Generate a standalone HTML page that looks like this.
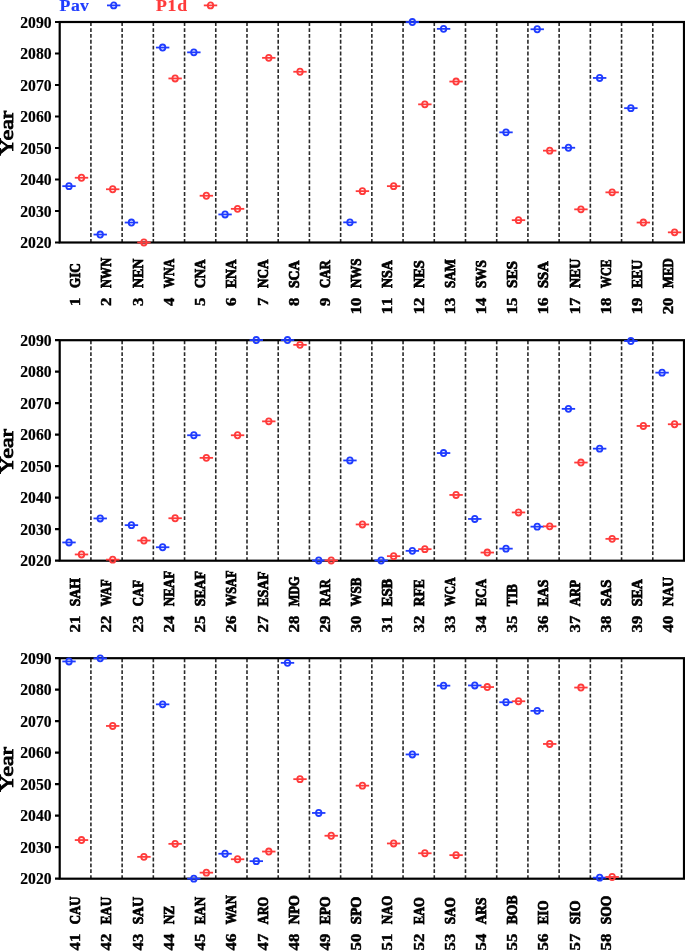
<!DOCTYPE html>
<html><head><meta charset="utf-8"><style>
html,body{margin:0;padding:0;background:#fff;width:685px;height:951px;overflow:hidden}
svg{display:block;will-change:transform}
text{font-family:"Liberation Serif",serif;font-weight:bold}
</style></head><body>
<svg width="685" height="951" viewBox="0 0 685 951">
<rect width="685" height="951" fill="#fff"/>

<path d="M90.91 22.30V242.50M122.13 22.30V242.50M153.34 22.30V242.50M184.56 22.30V242.50M215.77 22.30V242.50M246.99 22.30V242.50M278.20 22.30V242.50M309.42 22.30V242.50M340.63 22.30V242.50M371.85 22.30V242.50M403.06 22.30V242.50M434.28 22.30V242.50M465.49 22.30V242.50M496.71 22.30V242.50M527.92 22.30V242.50M559.14 22.30V242.50M590.36 22.30V242.50M621.57 22.30V242.50M652.78 22.30V242.50" stroke="#2a2a2a" stroke-width="1.6" stroke-dasharray="3.8 2.056" fill="none"/>
<rect x="59.70" y="22.00" width="624.30" height="220.50" fill="none" stroke="#000" stroke-width="2.2"/>
<path d="M55 22.00H59.70M55 53.50H59.70M55 85.00H59.70M55 116.50H59.70M55 148.00H59.70M55 179.50H59.70M55 211.00H59.70M55 242.50H59.70" stroke="#000" stroke-width="2.2" fill="none"/>
<text font-size="16.0" text-anchor="end" stroke="#000" stroke-width="0.15" transform="translate(51.6 27.60) scale(0.98 1)">2090</text>
<text font-size="16.0" text-anchor="end" stroke="#000" stroke-width="0.15" transform="translate(51.6 59.10) scale(0.98 1)">2080</text>
<text font-size="16.0" text-anchor="end" stroke="#000" stroke-width="0.15" transform="translate(51.6 90.60) scale(0.98 1)">2070</text>
<text font-size="16.0" text-anchor="end" stroke="#000" stroke-width="0.15" transform="translate(51.6 122.10) scale(0.98 1)">2060</text>
<text font-size="16.0" text-anchor="end" stroke="#000" stroke-width="0.15" transform="translate(51.6 153.60) scale(0.98 1)">2050</text>
<text font-size="16.0" text-anchor="end" stroke="#000" stroke-width="0.15" transform="translate(51.6 185.10) scale(0.98 1)">2040</text>
<text font-size="16.0" text-anchor="end" stroke="#000" stroke-width="0.15" transform="translate(51.6 216.60) scale(0.98 1)">2030</text>
<text font-size="16.0" text-anchor="end" stroke="#000" stroke-width="0.15" transform="translate(51.6 248.10) scale(0.98 1)">2020</text>
<text font-size="19.5" text-anchor="middle" stroke="#000" stroke-width="0.9" style="font-weight:normal" transform="translate(12.5 133.25) rotate(-90) scale(1.24 1)">Year</text>
<text font-size="14.5" stroke="#000" stroke-width="0.8" transform="translate(80.21 288.10) rotate(-90) scale(0.9097 1)">GIC</text>
<text font-size="14.5" text-anchor="middle" stroke="#000" stroke-width="0.45" transform="translate(80.21 301.70) rotate(-90) scale(1.16 1)">1</text>
<text font-size="14.5" stroke="#000" stroke-width="0.8" transform="translate(111.42 288.10) rotate(-90) scale(0.8572 1)">NWN</text>
<text font-size="14.5" text-anchor="middle" stroke="#000" stroke-width="0.45" transform="translate(111.42 301.70) rotate(-90) scale(1.16 1)">2</text>
<text font-size="14.5" stroke="#000" stroke-width="0.8" transform="translate(142.64 288.10) rotate(-90) scale(0.9566 1)">NEN</text>
<text font-size="14.5" text-anchor="middle" stroke="#000" stroke-width="0.45" transform="translate(142.64 301.70) rotate(-90) scale(1.16 1)">3</text>
<text font-size="14.5" stroke="#000" stroke-width="0.8" transform="translate(173.85 288.10) rotate(-90) scale(0.8306 1)">WNA</text>
<text font-size="14.5" text-anchor="middle" stroke="#000" stroke-width="0.45" transform="translate(173.85 301.70) rotate(-90) scale(1.16 1)">4</text>
<text font-size="14.5" stroke="#000" stroke-width="0.8" transform="translate(205.07 288.10) rotate(-90) scale(0.9163 1)">CNA</text>
<text font-size="14.5" text-anchor="middle" stroke="#000" stroke-width="0.45" transform="translate(205.07 301.70) rotate(-90) scale(1.16 1)">5</text>
<text font-size="14.5" stroke="#000" stroke-width="0.8" transform="translate(236.28 288.10) rotate(-90) scale(0.9337 1)">ENA</text>
<text font-size="14.5" text-anchor="middle" stroke="#000" stroke-width="0.45" transform="translate(236.28 301.70) rotate(-90) scale(1.16 1)">6</text>
<text font-size="14.5" stroke="#000" stroke-width="0.8" transform="translate(267.50 288.10) rotate(-90) scale(0.9078 1)">NCA</text>
<text font-size="14.5" text-anchor="middle" stroke="#000" stroke-width="0.45" transform="translate(267.50 301.70) rotate(-90) scale(1.16 1)">7</text>
<text font-size="14.5" stroke="#000" stroke-width="0.8" transform="translate(298.71 288.10) rotate(-90) scale(0.9486 1)">SCA</text>
<text font-size="14.5" text-anchor="middle" stroke="#000" stroke-width="0.45" transform="translate(298.71 301.70) rotate(-90) scale(1.16 1)">8</text>
<text font-size="14.5" stroke="#000" stroke-width="0.8" transform="translate(329.93 288.10) rotate(-90) scale(0.8919 1)">CAR</text>
<text font-size="14.5" text-anchor="middle" stroke="#000" stroke-width="0.45" transform="translate(329.93 301.70) rotate(-90) scale(1.16 1)">9</text>
<text font-size="14.5" stroke="#000" stroke-width="0.8" transform="translate(361.14 288.10) rotate(-90) scale(0.8969 1)">NWS</text>
<text font-size="14.5" text-anchor="middle" stroke="#000" stroke-width="0.45" transform="translate(361.14 310.10) rotate(-90) scale(1.16 1)">1</text>
<text font-size="14.5" text-anchor="middle" stroke="#000" stroke-width="0.45" transform="translate(361.14 301.70) rotate(-90) scale(1.16 1)">0</text>
<text font-size="14.5" stroke="#000" stroke-width="0.8" transform="translate(392.36 288.10) rotate(-90) scale(0.9632 1)">NSA</text>
<text font-size="14.5" text-anchor="middle" stroke="#000" stroke-width="0.45" transform="translate(392.36 310.10) rotate(-90) scale(1.16 1)">1</text>
<text font-size="14.5" text-anchor="middle" stroke="#000" stroke-width="0.45" transform="translate(392.36 301.70) rotate(-90) scale(1.16 1)">1</text>
<text font-size="14.5" stroke="#000" stroke-width="0.8" transform="translate(423.57 288.10) rotate(-90) scale(0.9885 1)">NES</text>
<text font-size="14.5" text-anchor="middle" stroke="#000" stroke-width="0.45" transform="translate(423.57 310.10) rotate(-90) scale(1.16 1)">1</text>
<text font-size="14.5" text-anchor="middle" stroke="#000" stroke-width="0.45" transform="translate(423.57 301.70) rotate(-90) scale(1.16 1)">2</text>
<text font-size="14.5" stroke="#000" stroke-width="0.8" transform="translate(454.79 288.10) rotate(-90) scale(0.8994 1)">SAM</text>
<text font-size="14.5" text-anchor="middle" stroke="#000" stroke-width="0.45" transform="translate(454.79 310.10) rotate(-90) scale(1.16 1)">1</text>
<text font-size="14.5" text-anchor="middle" stroke="#000" stroke-width="0.45" transform="translate(454.79 301.70) rotate(-90) scale(1.16 1)">3</text>
<text font-size="14.5" stroke="#000" stroke-width="0.8" transform="translate(486.00 288.10) rotate(-90) scale(0.9118 1)">SWS</text>
<text font-size="14.5" text-anchor="middle" stroke="#000" stroke-width="0.45" transform="translate(486.00 310.10) rotate(-90) scale(1.16 1)">1</text>
<text font-size="14.5" text-anchor="middle" stroke="#000" stroke-width="0.45" transform="translate(486.00 301.70) rotate(-90) scale(1.16 1)">4</text>
<text font-size="14.5" stroke="#000" stroke-width="0.8" transform="translate(517.22 288.10) rotate(-90) scale(1.056 1)">SES</text>
<text font-size="14.5" text-anchor="middle" stroke="#000" stroke-width="0.45" transform="translate(517.22 310.10) rotate(-90) scale(1.16 1)">1</text>
<text font-size="14.5" text-anchor="middle" stroke="#000" stroke-width="0.45" transform="translate(517.22 301.70) rotate(-90) scale(1.16 1)">5</text>
<text font-size="14.5" stroke="#000" stroke-width="0.8" transform="translate(548.43 288.10) rotate(-90) scale(1.0091 1)">SSA</text>
<text font-size="14.5" text-anchor="middle" stroke="#000" stroke-width="0.45" transform="translate(548.43 310.10) rotate(-90) scale(1.16 1)">1</text>
<text font-size="14.5" text-anchor="middle" stroke="#000" stroke-width="0.45" transform="translate(548.43 301.70) rotate(-90) scale(1.16 1)">6</text>
<text font-size="14.5" stroke="#000" stroke-width="0.8" transform="translate(579.65 288.10) rotate(-90) scale(0.9658 1)">NEU</text>
<text font-size="14.5" text-anchor="middle" stroke="#000" stroke-width="0.45" transform="translate(579.65 310.10) rotate(-90) scale(1.16 1)">1</text>
<text font-size="14.5" text-anchor="middle" stroke="#000" stroke-width="0.45" transform="translate(579.65 301.70) rotate(-90) scale(1.16 1)">7</text>
<text font-size="14.5" stroke="#000" stroke-width="0.8" transform="translate(610.86 288.10) rotate(-90) scale(0.8308 1)">WCE</text>
<text font-size="14.5" text-anchor="middle" stroke="#000" stroke-width="0.45" transform="translate(610.86 310.10) rotate(-90) scale(1.16 1)">1</text>
<text font-size="14.5" text-anchor="middle" stroke="#000" stroke-width="0.45" transform="translate(610.86 301.70) rotate(-90) scale(1.16 1)">8</text>
<text font-size="14.5" stroke="#000" stroke-width="0.8" transform="translate(642.08 288.10) rotate(-90) scale(0.9443 1)">EEU</text>
<text font-size="14.5" text-anchor="middle" stroke="#000" stroke-width="0.45" transform="translate(642.08 310.10) rotate(-90) scale(1.16 1)">1</text>
<text font-size="14.5" text-anchor="middle" stroke="#000" stroke-width="0.45" transform="translate(642.08 301.70) rotate(-90) scale(1.16 1)">9</text>
<text font-size="14.5" stroke="#000" stroke-width="0.8" transform="translate(673.29 288.10) rotate(-90) scale(0.8811 1)">MED</text>
<text font-size="14.5" text-anchor="middle" stroke="#000" stroke-width="0.45" transform="translate(673.29 310.10) rotate(-90) scale(1.16 1)">2</text>
<text font-size="14.5" text-anchor="middle" stroke="#000" stroke-width="0.45" transform="translate(673.29 301.70) rotate(-90) scale(1.16 1)">0</text>
<g stroke="#1f3cff" stroke-width="1.8" fill="none"><path d="M62.30 186.15H75.70"/><ellipse cx="69.00" cy="186.15" rx="2.75" ry="3.05"/></g>
<g stroke="#ff3b3b" stroke-width="1.8" fill="none"><path d="M74.80 177.75H88.20"/><ellipse cx="81.50" cy="177.75" rx="2.75" ry="3.05"/></g>
<g stroke="#1f3cff" stroke-width="1.8" fill="none"><path d="M93.51 234.55H106.91"/><ellipse cx="100.21" cy="234.55" rx="2.75" ry="3.05"/></g>
<g stroke="#ff3b3b" stroke-width="1.8" fill="none"><path d="M106.01 189.25H119.41"/><ellipse cx="112.71" cy="189.25" rx="2.75" ry="3.05"/></g>
<g stroke="#1f3cff" stroke-width="1.8" fill="none"><path d="M124.73 222.55H138.13"/><ellipse cx="131.43" cy="222.55" rx="2.75" ry="3.05"/></g>
<g stroke="#ff3b3b" stroke-width="1.8" fill="none"><path d="M137.23 242.45H150.63"/><ellipse cx="143.93" cy="242.45" rx="2.75" ry="3.05"/></g>
<g stroke="#1f3cff" stroke-width="1.8" fill="none"><path d="M155.94 47.55H169.34"/><ellipse cx="162.64" cy="47.55" rx="2.75" ry="3.05"/></g>
<g stroke="#ff3b3b" stroke-width="1.8" fill="none"><path d="M168.44 78.45H181.84"/><ellipse cx="175.14" cy="78.45" rx="2.75" ry="3.05"/></g>
<g stroke="#1f3cff" stroke-width="1.8" fill="none"><path d="M187.16 52.35H200.56"/><ellipse cx="193.86" cy="52.35" rx="2.75" ry="3.05"/></g>
<g stroke="#ff3b3b" stroke-width="1.8" fill="none"><path d="M199.66 195.75H213.06"/><ellipse cx="206.36" cy="195.75" rx="2.75" ry="3.05"/></g>
<g stroke="#1f3cff" stroke-width="1.8" fill="none"><path d="M218.38 214.45H231.77"/><ellipse cx="225.07" cy="214.45" rx="2.75" ry="3.05"/></g>
<g stroke="#ff3b3b" stroke-width="1.8" fill="none"><path d="M230.88 208.85H244.27"/><ellipse cx="237.57" cy="208.85" rx="2.75" ry="3.05"/></g>
<g stroke="#ff3b3b" stroke-width="1.8" fill="none"><path d="M262.09 57.85H275.49"/><ellipse cx="268.79" cy="57.85" rx="2.75" ry="3.05"/></g>
<g stroke="#ff3b3b" stroke-width="1.8" fill="none"><path d="M293.31 71.75H306.70"/><ellipse cx="300.00" cy="71.75" rx="2.75" ry="3.05"/></g>
<g stroke="#1f3cff" stroke-width="1.8" fill="none"><path d="M343.23 222.35H356.63"/><ellipse cx="349.93" cy="222.35" rx="2.75" ry="3.05"/></g>
<g stroke="#ff3b3b" stroke-width="1.8" fill="none"><path d="M355.73 191.15H369.13"/><ellipse cx="362.43" cy="191.15" rx="2.75" ry="3.05"/></g>
<g stroke="#ff3b3b" stroke-width="1.8" fill="none"><path d="M386.95 186.15H400.35"/><ellipse cx="393.65" cy="186.15" rx="2.75" ry="3.05"/></g>
<g stroke="#1f3cff" stroke-width="1.8" fill="none"><path d="M405.66 22.05H419.06"/><ellipse cx="412.36" cy="22.05" rx="2.75" ry="3.05"/></g>
<g stroke="#ff3b3b" stroke-width="1.8" fill="none"><path d="M418.16 104.35H431.56"/><ellipse cx="424.86" cy="104.35" rx="2.75" ry="3.05"/></g>
<g stroke="#1f3cff" stroke-width="1.8" fill="none"><path d="M436.88 28.85H450.28"/><ellipse cx="443.58" cy="28.85" rx="2.75" ry="3.05"/></g>
<g stroke="#ff3b3b" stroke-width="1.8" fill="none"><path d="M449.38 81.55H462.78"/><ellipse cx="456.08" cy="81.55" rx="2.75" ry="3.05"/></g>
<g stroke="#1f3cff" stroke-width="1.8" fill="none"><path d="M499.31 132.35H512.71"/><ellipse cx="506.01" cy="132.35" rx="2.75" ry="3.05"/></g>
<g stroke="#ff3b3b" stroke-width="1.8" fill="none"><path d="M511.81 220.15H525.21"/><ellipse cx="518.51" cy="220.15" rx="2.75" ry="3.05"/></g>
<g stroke="#1f3cff" stroke-width="1.8" fill="none"><path d="M530.52 29.25H543.92"/><ellipse cx="537.22" cy="29.25" rx="2.75" ry="3.05"/></g>
<g stroke="#ff3b3b" stroke-width="1.8" fill="none"><path d="M543.02 150.65H556.42"/><ellipse cx="549.72" cy="150.65" rx="2.75" ry="3.05"/></g>
<g stroke="#1f3cff" stroke-width="1.8" fill="none"><path d="M561.74 147.75H575.14"/><ellipse cx="568.44" cy="147.75" rx="2.75" ry="3.05"/></g>
<g stroke="#ff3b3b" stroke-width="1.8" fill="none"><path d="M574.24 209.35H587.64"/><ellipse cx="580.94" cy="209.35" rx="2.75" ry="3.05"/></g>
<g stroke="#1f3cff" stroke-width="1.8" fill="none"><path d="M592.95 77.95H606.36"/><ellipse cx="599.65" cy="77.95" rx="2.75" ry="3.05"/></g>
<g stroke="#ff3b3b" stroke-width="1.8" fill="none"><path d="M605.45 192.35H618.86"/><ellipse cx="612.15" cy="192.35" rx="2.75" ry="3.05"/></g>
<g stroke="#1f3cff" stroke-width="1.8" fill="none"><path d="M624.17 108.15H637.57"/><ellipse cx="630.87" cy="108.15" rx="2.75" ry="3.05"/></g>
<g stroke="#ff3b3b" stroke-width="1.8" fill="none"><path d="M636.67 222.55H650.07"/><ellipse cx="643.37" cy="222.55" rx="2.75" ry="3.05"/></g>
<g stroke="#ff3b3b" stroke-width="1.8" fill="none"><path d="M667.88 232.35H681.28"/><ellipse cx="674.58" cy="232.35" rx="2.75" ry="3.05"/></g>
<path d="M90.91 340.50V560.70M122.13 340.50V560.70M153.34 340.50V560.70M184.56 340.50V560.70M215.77 340.50V560.70M246.99 340.50V560.70M278.20 340.50V560.70M309.42 340.50V560.70M340.63 340.50V560.70M371.85 340.50V560.70M403.06 340.50V560.70M434.28 340.50V560.70M465.49 340.50V560.70M496.71 340.50V560.70M527.92 340.50V560.70M559.14 340.50V560.70M590.36 340.50V560.70M621.57 340.50V560.70M652.78 340.50V560.70" stroke="#2a2a2a" stroke-width="1.6" stroke-dasharray="3.8 2.056" fill="none"/>
<rect x="59.70" y="340.20" width="624.30" height="220.50" fill="none" stroke="#000" stroke-width="2.2"/>
<path d="M55 340.20H59.70M55 371.70H59.70M55 403.20H59.70M55 434.70H59.70M55 466.20H59.70M55 497.70H59.70M55 529.20H59.70M55 560.70H59.70" stroke="#000" stroke-width="2.2" fill="none"/>
<text font-size="16.0" text-anchor="end" stroke="#000" stroke-width="0.15" transform="translate(51.6 345.80) scale(0.98 1)">2090</text>
<text font-size="16.0" text-anchor="end" stroke="#000" stroke-width="0.15" transform="translate(51.6 377.30) scale(0.98 1)">2080</text>
<text font-size="16.0" text-anchor="end" stroke="#000" stroke-width="0.15" transform="translate(51.6 408.80) scale(0.98 1)">2070</text>
<text font-size="16.0" text-anchor="end" stroke="#000" stroke-width="0.15" transform="translate(51.6 440.30) scale(0.98 1)">2060</text>
<text font-size="16.0" text-anchor="end" stroke="#000" stroke-width="0.15" transform="translate(51.6 471.80) scale(0.98 1)">2050</text>
<text font-size="16.0" text-anchor="end" stroke="#000" stroke-width="0.15" transform="translate(51.6 503.30) scale(0.98 1)">2040</text>
<text font-size="16.0" text-anchor="end" stroke="#000" stroke-width="0.15" transform="translate(51.6 534.80) scale(0.98 1)">2030</text>
<text font-size="16.0" text-anchor="end" stroke="#000" stroke-width="0.15" transform="translate(51.6 566.30) scale(0.98 1)">2020</text>
<text font-size="19.5" text-anchor="middle" stroke="#000" stroke-width="0.9" style="font-weight:normal" transform="translate(12.5 451.45) rotate(-90) scale(1.24 1)">Year</text>
<text font-size="14.5" stroke="#000" stroke-width="0.8" transform="translate(80.21 606.30) rotate(-90) scale(0.9426 1)">SAH</text>
<text font-size="14.5" text-anchor="middle" stroke="#000" stroke-width="0.45" transform="translate(80.21 628.30) rotate(-90) scale(1.16 1)">2</text>
<text font-size="14.5" text-anchor="middle" stroke="#000" stroke-width="0.45" transform="translate(80.21 619.90) rotate(-90) scale(1.16 1)">1</text>
<text font-size="14.5" stroke="#000" stroke-width="0.8" transform="translate(111.42 606.30) rotate(-90) scale(0.8363 1)">WAF</text>
<text font-size="14.5" text-anchor="middle" stroke="#000" stroke-width="0.45" transform="translate(111.42 628.30) rotate(-90) scale(1.16 1)">2</text>
<text font-size="14.5" text-anchor="middle" stroke="#000" stroke-width="0.45" transform="translate(111.42 619.90) rotate(-90) scale(1.16 1)">2</text>
<text font-size="14.5" stroke="#000" stroke-width="0.8" transform="translate(142.64 606.30) rotate(-90) scale(0.8875 1)">CAF</text>
<text font-size="14.5" text-anchor="middle" stroke="#000" stroke-width="0.45" transform="translate(142.64 628.30) rotate(-90) scale(1.16 1)">2</text>
<text font-size="14.5" text-anchor="middle" stroke="#000" stroke-width="0.45" transform="translate(142.64 619.90) rotate(-90) scale(1.16 1)">3</text>
<text font-size="14.5" stroke="#000" stroke-width="0.8" transform="translate(173.85 606.30) rotate(-90) scale(0.9011 1)">NEAF</text>
<text font-size="14.5" text-anchor="middle" stroke="#000" stroke-width="0.45" transform="translate(173.85 628.30) rotate(-90) scale(1.16 1)">2</text>
<text font-size="14.5" text-anchor="middle" stroke="#000" stroke-width="0.45" transform="translate(173.85 619.90) rotate(-90) scale(1.16 1)">4</text>
<text font-size="14.5" stroke="#000" stroke-width="0.8" transform="translate(205.07 606.30) rotate(-90) scale(0.9543 1)">SEAF</text>
<text font-size="14.5" text-anchor="middle" stroke="#000" stroke-width="0.45" transform="translate(205.07 628.30) rotate(-90) scale(1.16 1)">2</text>
<text font-size="14.5" text-anchor="middle" stroke="#000" stroke-width="0.45" transform="translate(205.07 619.90) rotate(-90) scale(1.16 1)">5</text>
<text font-size="14.5" stroke="#000" stroke-width="0.8" transform="translate(236.28 606.30) rotate(-90) scale(0.86 1)">WSAF</text>
<text font-size="14.5" text-anchor="middle" stroke="#000" stroke-width="0.45" transform="translate(236.28 628.30) rotate(-90) scale(1.16 1)">2</text>
<text font-size="14.5" text-anchor="middle" stroke="#000" stroke-width="0.45" transform="translate(236.28 619.90) rotate(-90) scale(1.16 1)">6</text>
<text font-size="14.5" stroke="#000" stroke-width="0.8" transform="translate(267.50 606.30) rotate(-90) scale(0.9392 1)">ESAF</text>
<text font-size="14.5" text-anchor="middle" stroke="#000" stroke-width="0.45" transform="translate(267.50 628.30) rotate(-90) scale(1.16 1)">2</text>
<text font-size="14.5" text-anchor="middle" stroke="#000" stroke-width="0.45" transform="translate(267.50 619.90) rotate(-90) scale(1.16 1)">7</text>
<text font-size="14.5" stroke="#000" stroke-width="0.8" transform="translate(298.71 606.30) rotate(-90) scale(0.8444 1)">MDG</text>
<text font-size="14.5" text-anchor="middle" stroke="#000" stroke-width="0.45" transform="translate(298.71 628.30) rotate(-90) scale(1.16 1)">2</text>
<text font-size="14.5" text-anchor="middle" stroke="#000" stroke-width="0.45" transform="translate(298.71 619.90) rotate(-90) scale(1.16 1)">8</text>
<text font-size="14.5" stroke="#000" stroke-width="0.8" transform="translate(329.93 606.30) rotate(-90) scale(0.8616 1)">RAR</text>
<text font-size="14.5" text-anchor="middle" stroke="#000" stroke-width="0.45" transform="translate(329.93 628.30) rotate(-90) scale(1.16 1)">2</text>
<text font-size="14.5" text-anchor="middle" stroke="#000" stroke-width="0.45" transform="translate(329.93 619.90) rotate(-90) scale(1.16 1)">9</text>
<text font-size="14.5" stroke="#000" stroke-width="0.8" transform="translate(361.14 606.30) rotate(-90) scale(0.8913 1)">WSB</text>
<text font-size="14.5" text-anchor="middle" stroke="#000" stroke-width="0.45" transform="translate(361.14 628.30) rotate(-90) scale(1.16 1)">3</text>
<text font-size="14.5" text-anchor="middle" stroke="#000" stroke-width="0.45" transform="translate(361.14 619.90) rotate(-90) scale(1.16 1)">0</text>
<text font-size="14.5" stroke="#000" stroke-width="0.8" transform="translate(392.36 606.30) rotate(-90) scale(1.0098 1)">ESB</text>
<text font-size="14.5" text-anchor="middle" stroke="#000" stroke-width="0.45" transform="translate(392.36 628.30) rotate(-90) scale(1.16 1)">3</text>
<text font-size="14.5" text-anchor="middle" stroke="#000" stroke-width="0.45" transform="translate(392.36 619.90) rotate(-90) scale(1.16 1)">1</text>
<text font-size="14.5" stroke="#000" stroke-width="0.8" transform="translate(423.57 606.30) rotate(-90) scale(0.9337 1)">RFE</text>
<text font-size="14.5" text-anchor="middle" stroke="#000" stroke-width="0.45" transform="translate(423.57 628.30) rotate(-90) scale(1.16 1)">3</text>
<text font-size="14.5" text-anchor="middle" stroke="#000" stroke-width="0.45" transform="translate(423.57 619.90) rotate(-90) scale(1.16 1)">2</text>
<text font-size="14.5" stroke="#000" stroke-width="0.8" transform="translate(454.79 606.30) rotate(-90) scale(0.8177 1)">WCA</text>
<text font-size="14.5" text-anchor="middle" stroke="#000" stroke-width="0.45" transform="translate(454.79 628.30) rotate(-90) scale(1.16 1)">3</text>
<text font-size="14.5" text-anchor="middle" stroke="#000" stroke-width="0.45" transform="translate(454.79 619.90) rotate(-90) scale(1.16 1)">3</text>
<text font-size="14.5" stroke="#000" stroke-width="0.8" transform="translate(486.00 606.30) rotate(-90) scale(0.8944 1)">ECA</text>
<text font-size="14.5" text-anchor="middle" stroke="#000" stroke-width="0.45" transform="translate(486.00 628.30) rotate(-90) scale(1.16 1)">3</text>
<text font-size="14.5" text-anchor="middle" stroke="#000" stroke-width="0.45" transform="translate(486.00 619.90) rotate(-90) scale(1.16 1)">4</text>
<text font-size="14.5" stroke="#000" stroke-width="0.8" transform="translate(517.22 606.30) rotate(-90) scale(0.8904 1)">TIB</text>
<text font-size="14.5" text-anchor="middle" stroke="#000" stroke-width="0.45" transform="translate(517.22 628.30) rotate(-90) scale(1.16 1)">3</text>
<text font-size="14.5" text-anchor="middle" stroke="#000" stroke-width="0.45" transform="translate(517.22 619.90) rotate(-90) scale(1.16 1)">5</text>
<text font-size="14.5" stroke="#000" stroke-width="0.8" transform="translate(548.43 606.30) rotate(-90) scale(0.9487 1)">EAS</text>
<text font-size="14.5" text-anchor="middle" stroke="#000" stroke-width="0.45" transform="translate(548.43 628.30) rotate(-90) scale(1.16 1)">3</text>
<text font-size="14.5" text-anchor="middle" stroke="#000" stroke-width="0.45" transform="translate(548.43 619.90) rotate(-90) scale(1.16 1)">6</text>
<text font-size="14.5" stroke="#000" stroke-width="0.8" transform="translate(579.65 606.30) rotate(-90) scale(0.8884 1)">ARP</text>
<text font-size="14.5" text-anchor="middle" stroke="#000" stroke-width="0.45" transform="translate(579.65 628.30) rotate(-90) scale(1.16 1)">3</text>
<text font-size="14.5" text-anchor="middle" stroke="#000" stroke-width="0.45" transform="translate(579.65 619.90) rotate(-90) scale(1.16 1)">7</text>
<text font-size="14.5" stroke="#000" stroke-width="0.8" transform="translate(610.86 606.30) rotate(-90) scale(1.0046 1)">SAS</text>
<text font-size="14.5" text-anchor="middle" stroke="#000" stroke-width="0.45" transform="translate(610.86 628.30) rotate(-90) scale(1.16 1)">3</text>
<text font-size="14.5" text-anchor="middle" stroke="#000" stroke-width="0.45" transform="translate(610.86 619.90) rotate(-90) scale(1.16 1)">8</text>
<text font-size="14.5" stroke="#000" stroke-width="0.8" transform="translate(642.08 606.30) rotate(-90) scale(0.9632 1)">SEA</text>
<text font-size="14.5" text-anchor="middle" stroke="#000" stroke-width="0.45" transform="translate(642.08 628.30) rotate(-90) scale(1.16 1)">3</text>
<text font-size="14.5" text-anchor="middle" stroke="#000" stroke-width="0.45" transform="translate(642.08 619.90) rotate(-90) scale(1.16 1)">9</text>
<text font-size="14.5" stroke="#000" stroke-width="0.8" transform="translate(673.29 606.30) rotate(-90) scale(0.9323 1)">NAU</text>
<text font-size="14.5" text-anchor="middle" stroke="#000" stroke-width="0.45" transform="translate(673.29 628.30) rotate(-90) scale(1.16 1)">4</text>
<text font-size="14.5" text-anchor="middle" stroke="#000" stroke-width="0.45" transform="translate(673.29 619.90) rotate(-90) scale(1.16 1)">0</text>
<g stroke="#1f3cff" stroke-width="1.8" fill="none"><path d="M62.30 542.45H75.70"/><ellipse cx="69.00" cy="542.45" rx="2.75" ry="3.05"/></g>
<g stroke="#ff3b3b" stroke-width="1.8" fill="none"><path d="M74.80 554.45H88.20"/><ellipse cx="81.50" cy="554.45" rx="2.75" ry="3.05"/></g>
<g stroke="#1f3cff" stroke-width="1.8" fill="none"><path d="M93.51 518.45H106.91"/><ellipse cx="100.21" cy="518.45" rx="2.75" ry="3.05"/></g>
<g stroke="#ff3b3b" stroke-width="1.8" fill="none"><path d="M106.01 559.65H119.41"/><ellipse cx="112.71" cy="559.65" rx="2.75" ry="3.05"/></g>
<g stroke="#1f3cff" stroke-width="1.8" fill="none"><path d="M124.73 525.15H138.13"/><ellipse cx="131.43" cy="525.15" rx="2.75" ry="3.05"/></g>
<g stroke="#ff3b3b" stroke-width="1.8" fill="none"><path d="M137.23 540.55H150.63"/><ellipse cx="143.93" cy="540.55" rx="2.75" ry="3.05"/></g>
<g stroke="#1f3cff" stroke-width="1.8" fill="none"><path d="M155.94 547.25H169.34"/><ellipse cx="162.64" cy="547.25" rx="2.75" ry="3.05"/></g>
<g stroke="#ff3b3b" stroke-width="1.8" fill="none"><path d="M168.44 518.25H181.84"/><ellipse cx="175.14" cy="518.25" rx="2.75" ry="3.05"/></g>
<g stroke="#1f3cff" stroke-width="1.8" fill="none"><path d="M187.16 435.25H200.56"/><ellipse cx="193.86" cy="435.25" rx="2.75" ry="3.05"/></g>
<g stroke="#ff3b3b" stroke-width="1.8" fill="none"><path d="M199.66 457.85H213.06"/><ellipse cx="206.36" cy="457.85" rx="2.75" ry="3.05"/></g>
<g stroke="#ff3b3b" stroke-width="1.8" fill="none"><path d="M230.88 435.25H244.27"/><ellipse cx="237.57" cy="435.25" rx="2.75" ry="3.05"/></g>
<g stroke="#1f3cff" stroke-width="1.8" fill="none"><path d="M249.59 340.05H262.99"/><ellipse cx="256.29" cy="340.05" rx="2.75" ry="3.05"/></g>
<g stroke="#ff3b3b" stroke-width="1.8" fill="none"><path d="M262.09 421.35H275.49"/><ellipse cx="268.79" cy="421.35" rx="2.75" ry="3.05"/></g>
<g stroke="#1f3cff" stroke-width="1.8" fill="none"><path d="M280.81 340.05H294.20"/><ellipse cx="287.50" cy="340.05" rx="2.75" ry="3.05"/></g>
<g stroke="#ff3b3b" stroke-width="1.8" fill="none"><path d="M293.31 344.85H306.70"/><ellipse cx="300.00" cy="344.85" rx="2.75" ry="3.05"/></g>
<g stroke="#1f3cff" stroke-width="1.8" fill="none"><path d="M312.02 560.45H325.42"/><ellipse cx="318.72" cy="560.45" rx="2.75" ry="3.05"/></g>
<g stroke="#ff3b3b" stroke-width="1.8" fill="none"><path d="M324.52 560.45H337.92"/><ellipse cx="331.22" cy="560.45" rx="2.75" ry="3.05"/></g>
<g stroke="#1f3cff" stroke-width="1.8" fill="none"><path d="M343.23 460.45H356.63"/><ellipse cx="349.93" cy="460.45" rx="2.75" ry="3.05"/></g>
<g stroke="#ff3b3b" stroke-width="1.8" fill="none"><path d="M355.73 524.45H369.13"/><ellipse cx="362.43" cy="524.45" rx="2.75" ry="3.05"/></g>
<g stroke="#1f3cff" stroke-width="1.8" fill="none"><path d="M374.45 560.45H387.85"/><ellipse cx="381.15" cy="560.45" rx="2.75" ry="3.05"/></g>
<g stroke="#ff3b3b" stroke-width="1.8" fill="none"><path d="M386.95 556.15H400.35"/><ellipse cx="393.65" cy="556.15" rx="2.75" ry="3.05"/></g>
<g stroke="#1f3cff" stroke-width="1.8" fill="none"><path d="M405.66 550.85H419.06"/><ellipse cx="412.36" cy="550.85" rx="2.75" ry="3.05"/></g>
<g stroke="#ff3b3b" stroke-width="1.8" fill="none"><path d="M418.16 549.15H431.56"/><ellipse cx="424.86" cy="549.15" rx="2.75" ry="3.05"/></g>
<g stroke="#1f3cff" stroke-width="1.8" fill="none"><path d="M436.88 453.05H450.28"/><ellipse cx="443.58" cy="453.05" rx="2.75" ry="3.05"/></g>
<g stroke="#ff3b3b" stroke-width="1.8" fill="none"><path d="M449.38 494.95H462.78"/><ellipse cx="456.08" cy="494.95" rx="2.75" ry="3.05"/></g>
<g stroke="#1f3cff" stroke-width="1.8" fill="none"><path d="M468.09 518.95H481.49"/><ellipse cx="474.79" cy="518.95" rx="2.75" ry="3.05"/></g>
<g stroke="#ff3b3b" stroke-width="1.8" fill="none"><path d="M480.59 552.55H493.99"/><ellipse cx="487.29" cy="552.55" rx="2.75" ry="3.05"/></g>
<g stroke="#1f3cff" stroke-width="1.8" fill="none"><path d="M499.31 548.65H512.71"/><ellipse cx="506.01" cy="548.65" rx="2.75" ry="3.05"/></g>
<g stroke="#ff3b3b" stroke-width="1.8" fill="none"><path d="M511.81 512.45H525.21"/><ellipse cx="518.51" cy="512.45" rx="2.75" ry="3.05"/></g>
<g stroke="#1f3cff" stroke-width="1.8" fill="none"><path d="M530.52 526.65H543.92"/><ellipse cx="537.22" cy="526.65" rx="2.75" ry="3.05"/></g>
<g stroke="#ff3b3b" stroke-width="1.8" fill="none"><path d="M543.02 526.35H556.42"/><ellipse cx="549.72" cy="526.35" rx="2.75" ry="3.05"/></g>
<g stroke="#1f3cff" stroke-width="1.8" fill="none"><path d="M561.74 408.85H575.14"/><ellipse cx="568.44" cy="408.85" rx="2.75" ry="3.05"/></g>
<g stroke="#ff3b3b" stroke-width="1.8" fill="none"><path d="M574.24 462.55H587.64"/><ellipse cx="580.94" cy="462.55" rx="2.75" ry="3.05"/></g>
<g stroke="#1f3cff" stroke-width="1.8" fill="none"><path d="M592.95 448.65H606.36"/><ellipse cx="599.65" cy="448.65" rx="2.75" ry="3.05"/></g>
<g stroke="#ff3b3b" stroke-width="1.8" fill="none"><path d="M605.45 538.85H618.86"/><ellipse cx="612.15" cy="538.85" rx="2.75" ry="3.05"/></g>
<g stroke="#1f3cff" stroke-width="1.8" fill="none"><path d="M624.17 341.05H637.57"/><ellipse cx="630.87" cy="341.05" rx="2.75" ry="3.05"/></g>
<g stroke="#ff3b3b" stroke-width="1.8" fill="none"><path d="M636.67 425.95H650.07"/><ellipse cx="643.37" cy="425.95" rx="2.75" ry="3.05"/></g>
<g stroke="#1f3cff" stroke-width="1.8" fill="none"><path d="M655.38 372.65H668.78"/><ellipse cx="662.08" cy="372.65" rx="2.75" ry="3.05"/></g>
<g stroke="#ff3b3b" stroke-width="1.8" fill="none"><path d="M667.88 424.25H681.28"/><ellipse cx="674.58" cy="424.25" rx="2.75" ry="3.05"/></g>
<path d="M90.91 658.50V878.70M122.13 658.50V878.70M153.34 658.50V878.70M184.56 658.50V878.70M215.77 658.50V878.70M246.99 658.50V878.70M278.20 658.50V878.70M309.42 658.50V878.70M340.63 658.50V878.70M371.85 658.50V878.70M403.06 658.50V878.70M434.28 658.50V878.70M465.49 658.50V878.70M496.71 658.50V878.70M527.92 658.50V878.70M559.14 658.50V878.70M590.36 658.50V878.70M621.57 658.50V878.70" stroke="#2a2a2a" stroke-width="1.6" stroke-dasharray="3.8 2.056" fill="none"/>
<rect x="59.70" y="658.20" width="624.30" height="220.50" fill="none" stroke="#000" stroke-width="2.2"/>
<path d="M55 658.20H59.70M55 689.70H59.70M55 721.20H59.70M55 752.70H59.70M55 784.20H59.70M55 815.70H59.70M55 847.20H59.70M55 878.70H59.70" stroke="#000" stroke-width="2.2" fill="none"/>
<text font-size="16.0" text-anchor="end" stroke="#000" stroke-width="0.15" transform="translate(51.6 663.80) scale(0.98 1)">2090</text>
<text font-size="16.0" text-anchor="end" stroke="#000" stroke-width="0.15" transform="translate(51.6 695.30) scale(0.98 1)">2080</text>
<text font-size="16.0" text-anchor="end" stroke="#000" stroke-width="0.15" transform="translate(51.6 726.80) scale(0.98 1)">2070</text>
<text font-size="16.0" text-anchor="end" stroke="#000" stroke-width="0.15" transform="translate(51.6 758.30) scale(0.98 1)">2060</text>
<text font-size="16.0" text-anchor="end" stroke="#000" stroke-width="0.15" transform="translate(51.6 789.80) scale(0.98 1)">2050</text>
<text font-size="16.0" text-anchor="end" stroke="#000" stroke-width="0.15" transform="translate(51.6 821.30) scale(0.98 1)">2040</text>
<text font-size="16.0" text-anchor="end" stroke="#000" stroke-width="0.15" transform="translate(51.6 852.80) scale(0.98 1)">2030</text>
<text font-size="16.0" text-anchor="end" stroke="#000" stroke-width="0.15" transform="translate(51.6 884.30) scale(0.98 1)">2020</text>
<text font-size="19.5" text-anchor="middle" stroke="#000" stroke-width="0.9" style="font-weight:normal" transform="translate(12.5 769.45) rotate(-90) scale(1.24 1)">Year</text>
<text font-size="14.5" stroke="#000" stroke-width="0.8" transform="translate(80.21 924.30) rotate(-90) scale(0.886 1)">CAU</text>
<text font-size="14.5" text-anchor="middle" stroke="#000" stroke-width="0.45" transform="translate(80.21 946.30) rotate(-90) scale(1.16 1)">4</text>
<text font-size="14.5" text-anchor="middle" stroke="#000" stroke-width="0.45" transform="translate(80.21 937.90) rotate(-90) scale(1.16 1)">1</text>
<text font-size="14.5" stroke="#000" stroke-width="0.8" transform="translate(111.42 924.30) rotate(-90) scale(0.8944 1)">EAU</text>
<text font-size="14.5" text-anchor="middle" stroke="#000" stroke-width="0.45" transform="translate(111.42 946.30) rotate(-90) scale(1.16 1)">4</text>
<text font-size="14.5" text-anchor="middle" stroke="#000" stroke-width="0.45" transform="translate(111.42 937.90) rotate(-90) scale(1.16 1)">2</text>
<text font-size="14.5" stroke="#000" stroke-width="0.8" transform="translate(142.64 924.30) rotate(-90) scale(0.9433 1)">SAU</text>
<text font-size="14.5" text-anchor="middle" stroke="#000" stroke-width="0.45" transform="translate(142.64 946.30) rotate(-90) scale(1.16 1)">4</text>
<text font-size="14.5" text-anchor="middle" stroke="#000" stroke-width="0.45" transform="translate(142.64 937.90) rotate(-90) scale(1.16 1)">3</text>
<text font-size="14.5" stroke="#000" stroke-width="0.8" transform="translate(173.85 924.30) rotate(-90) scale(0.9242 1)">NZ</text>
<text font-size="14.5" text-anchor="middle" stroke="#000" stroke-width="0.45" transform="translate(173.85 946.30) rotate(-90) scale(1.16 1)">4</text>
<text font-size="14.5" text-anchor="middle" stroke="#000" stroke-width="0.45" transform="translate(173.85 937.90) rotate(-90) scale(1.16 1)">4</text>
<text font-size="14.5" stroke="#000" stroke-width="0.8" transform="translate(205.07 924.30) rotate(-90) scale(0.8944 1)">EAN</text>
<text font-size="14.5" text-anchor="middle" stroke="#000" stroke-width="0.45" transform="translate(205.07 946.30) rotate(-90) scale(1.16 1)">4</text>
<text font-size="14.5" text-anchor="middle" stroke="#000" stroke-width="0.45" transform="translate(205.07 937.90) rotate(-90) scale(1.16 1)">5</text>
<text font-size="14.5" stroke="#000" stroke-width="0.8" transform="translate(236.28 924.30) rotate(-90) scale(0.86 1)">WAN</text>
<text font-size="14.5" text-anchor="middle" stroke="#000" stroke-width="0.45" transform="translate(236.28 946.30) rotate(-90) scale(1.16 1)">4</text>
<text font-size="14.5" text-anchor="middle" stroke="#000" stroke-width="0.45" transform="translate(236.28 937.90) rotate(-90) scale(1.16 1)">6</text>
<text font-size="14.5" stroke="#000" stroke-width="0.8" transform="translate(267.50 924.30) rotate(-90) scale(0.8537 1)">ARO</text>
<text font-size="14.5" text-anchor="middle" stroke="#000" stroke-width="0.45" transform="translate(267.50 946.30) rotate(-90) scale(1.16 1)">4</text>
<text font-size="14.5" text-anchor="middle" stroke="#000" stroke-width="0.45" transform="translate(267.50 937.90) rotate(-90) scale(1.16 1)">7</text>
<text font-size="14.5" stroke="#000" stroke-width="0.8" transform="translate(298.71 924.30) rotate(-90) scale(0.9518 1)">NPO</text>
<text font-size="14.5" text-anchor="middle" stroke="#000" stroke-width="0.45" transform="translate(298.71 946.30) rotate(-90) scale(1.16 1)">4</text>
<text font-size="14.5" text-anchor="middle" stroke="#000" stroke-width="0.45" transform="translate(298.71 937.90) rotate(-90) scale(1.16 1)">8</text>
<text font-size="14.5" stroke="#000" stroke-width="0.8" transform="translate(329.93 924.30) rotate(-90) scale(0.9298 1)">EPO</text>
<text font-size="14.5" text-anchor="middle" stroke="#000" stroke-width="0.45" transform="translate(329.93 946.30) rotate(-90) scale(1.16 1)">4</text>
<text font-size="14.5" text-anchor="middle" stroke="#000" stroke-width="0.45" transform="translate(329.93 937.90) rotate(-90) scale(1.16 1)">9</text>
<text font-size="14.5" stroke="#000" stroke-width="0.8" transform="translate(361.14 924.30) rotate(-90) scale(0.9839 1)">SPO</text>
<text font-size="14.5" text-anchor="middle" stroke="#000" stroke-width="0.45" transform="translate(361.14 946.30) rotate(-90) scale(1.16 1)">5</text>
<text font-size="14.5" text-anchor="middle" stroke="#000" stroke-width="0.45" transform="translate(361.14 937.90) rotate(-90) scale(1.16 1)">0</text>
<text font-size="14.5" stroke="#000" stroke-width="0.8" transform="translate(392.36 924.30) rotate(-90) scale(0.8868 1)">NAO</text>
<text font-size="14.5" text-anchor="middle" stroke="#000" stroke-width="0.45" transform="translate(392.36 946.30) rotate(-90) scale(1.16 1)">5</text>
<text font-size="14.5" text-anchor="middle" stroke="#000" stroke-width="0.45" transform="translate(392.36 937.90) rotate(-90) scale(1.16 1)">1</text>
<text font-size="14.5" stroke="#000" stroke-width="0.8" transform="translate(423.57 924.30) rotate(-90) scale(0.8632 1)">EAO</text>
<text font-size="14.5" text-anchor="middle" stroke="#000" stroke-width="0.45" transform="translate(423.57 946.30) rotate(-90) scale(1.16 1)">5</text>
<text font-size="14.5" text-anchor="middle" stroke="#000" stroke-width="0.45" transform="translate(423.57 937.90) rotate(-90) scale(1.16 1)">2</text>
<text font-size="14.5" stroke="#000" stroke-width="0.8" transform="translate(454.79 924.30) rotate(-90) scale(0.9104 1)">SAO</text>
<text font-size="14.5" text-anchor="middle" stroke="#000" stroke-width="0.45" transform="translate(454.79 946.30) rotate(-90) scale(1.16 1)">5</text>
<text font-size="14.5" text-anchor="middle" stroke="#000" stroke-width="0.45" transform="translate(454.79 937.90) rotate(-90) scale(1.16 1)">3</text>
<text font-size="14.5" stroke="#000" stroke-width="0.8" transform="translate(486.00 924.30) rotate(-90) scale(0.9243 1)">ARS</text>
<text font-size="14.5" text-anchor="middle" stroke="#000" stroke-width="0.45" transform="translate(486.00 946.30) rotate(-90) scale(1.16 1)">5</text>
<text font-size="14.5" text-anchor="middle" stroke="#000" stroke-width="0.45" transform="translate(486.00 937.90) rotate(-90) scale(1.16 1)">4</text>
<text font-size="14.5" stroke="#000" stroke-width="0.8" transform="translate(517.22 924.30) rotate(-90) scale(0.9427 1)">BOB</text>
<text font-size="14.5" text-anchor="middle" stroke="#000" stroke-width="0.45" transform="translate(517.22 946.30) rotate(-90) scale(1.16 1)">5</text>
<text font-size="14.5" text-anchor="middle" stroke="#000" stroke-width="0.45" transform="translate(517.22 937.90) rotate(-90) scale(1.16 1)">5</text>
<text font-size="14.5" stroke="#000" stroke-width="0.8" transform="translate(548.43 924.30) rotate(-90) scale(0.8944 1)">EIO</text>
<text font-size="14.5" text-anchor="middle" stroke="#000" stroke-width="0.45" transform="translate(548.43 946.30) rotate(-90) scale(1.16 1)">5</text>
<text font-size="14.5" text-anchor="middle" stroke="#000" stroke-width="0.45" transform="translate(548.43 937.90) rotate(-90) scale(1.16 1)">6</text>
<text font-size="14.5" stroke="#000" stroke-width="0.8" transform="translate(579.65 924.30) rotate(-90) scale(0.9523 1)">SIO</text>
<text font-size="14.5" text-anchor="middle" stroke="#000" stroke-width="0.45" transform="translate(579.65 946.30) rotate(-90) scale(1.16 1)">5</text>
<text font-size="14.5" text-anchor="middle" stroke="#000" stroke-width="0.45" transform="translate(579.65 937.90) rotate(-90) scale(1.16 1)">7</text>
<text font-size="14.5" stroke="#000" stroke-width="0.8" transform="translate(610.86 924.30) rotate(-90) scale(0.9298 1)">SOO</text>
<text font-size="14.5" text-anchor="middle" stroke="#000" stroke-width="0.45" transform="translate(610.86 946.30) rotate(-90) scale(1.16 1)">5</text>
<text font-size="14.5" text-anchor="middle" stroke="#000" stroke-width="0.45" transform="translate(610.86 937.90) rotate(-90) scale(1.16 1)">8</text>
<g stroke="#1f3cff" stroke-width="1.8" fill="none"><path d="M62.30 661.45H75.70"/><ellipse cx="69.00" cy="661.45" rx="2.75" ry="3.05"/></g>
<g stroke="#ff3b3b" stroke-width="1.8" fill="none"><path d="M74.80 840.05H88.20"/><ellipse cx="81.50" cy="840.05" rx="2.75" ry="3.05"/></g>
<g stroke="#1f3cff" stroke-width="1.8" fill="none"><path d="M93.51 658.35H106.91"/><ellipse cx="100.21" cy="658.35" rx="2.75" ry="3.05"/></g>
<g stroke="#ff3b3b" stroke-width="1.8" fill="none"><path d="M106.01 725.95H119.41"/><ellipse cx="112.71" cy="725.95" rx="2.75" ry="3.05"/></g>
<g stroke="#ff3b3b" stroke-width="1.8" fill="none"><path d="M137.23 856.85H150.63"/><ellipse cx="143.93" cy="856.85" rx="2.75" ry="3.05"/></g>
<g stroke="#1f3cff" stroke-width="1.8" fill="none"><path d="M155.94 704.35H169.34"/><ellipse cx="162.64" cy="704.35" rx="2.75" ry="3.05"/></g>
<g stroke="#ff3b3b" stroke-width="1.8" fill="none"><path d="M168.44 843.85H181.84"/><ellipse cx="175.14" cy="843.85" rx="2.75" ry="3.05"/></g>
<g stroke="#1f3cff" stroke-width="1.8" fill="none"><path d="M187.16 878.65H200.56"/><ellipse cx="193.86" cy="878.65" rx="2.75" ry="3.05"/></g>
<g stroke="#ff3b3b" stroke-width="1.8" fill="none"><path d="M199.66 872.65H213.06"/><ellipse cx="206.36" cy="872.65" rx="2.75" ry="3.05"/></g>
<g stroke="#1f3cff" stroke-width="1.8" fill="none"><path d="M218.38 853.75H231.77"/><ellipse cx="225.07" cy="853.75" rx="2.75" ry="3.05"/></g>
<g stroke="#ff3b3b" stroke-width="1.8" fill="none"><path d="M230.88 859.25H244.27"/><ellipse cx="237.57" cy="859.25" rx="2.75" ry="3.05"/></g>
<g stroke="#1f3cff" stroke-width="1.8" fill="none"><path d="M249.59 861.15H262.99"/><ellipse cx="256.29" cy="861.15" rx="2.75" ry="3.05"/></g>
<g stroke="#ff3b3b" stroke-width="1.8" fill="none"><path d="M262.09 851.55H275.49"/><ellipse cx="268.79" cy="851.55" rx="2.75" ry="3.05"/></g>
<g stroke="#1f3cff" stroke-width="1.8" fill="none"><path d="M280.81 662.85H294.20"/><ellipse cx="287.50" cy="662.85" rx="2.75" ry="3.05"/></g>
<g stroke="#ff3b3b" stroke-width="1.8" fill="none"><path d="M293.31 779.15H306.70"/><ellipse cx="300.00" cy="779.15" rx="2.75" ry="3.05"/></g>
<g stroke="#1f3cff" stroke-width="1.8" fill="none"><path d="M312.02 812.95H325.42"/><ellipse cx="318.72" cy="812.95" rx="2.75" ry="3.05"/></g>
<g stroke="#ff3b3b" stroke-width="1.8" fill="none"><path d="M324.52 835.75H337.92"/><ellipse cx="331.22" cy="835.75" rx="2.75" ry="3.05"/></g>
<g stroke="#ff3b3b" stroke-width="1.8" fill="none"><path d="M355.73 785.65H369.13"/><ellipse cx="362.43" cy="785.65" rx="2.75" ry="3.05"/></g>
<g stroke="#ff3b3b" stroke-width="1.8" fill="none"><path d="M386.95 843.45H400.35"/><ellipse cx="393.65" cy="843.45" rx="2.75" ry="3.05"/></g>
<g stroke="#1f3cff" stroke-width="1.8" fill="none"><path d="M405.66 754.45H419.06"/><ellipse cx="412.36" cy="754.45" rx="2.75" ry="3.05"/></g>
<g stroke="#ff3b3b" stroke-width="1.8" fill="none"><path d="M418.16 853.25H431.56"/><ellipse cx="424.86" cy="853.25" rx="2.75" ry="3.05"/></g>
<g stroke="#1f3cff" stroke-width="1.8" fill="none"><path d="M436.88 685.65H450.28"/><ellipse cx="443.58" cy="685.65" rx="2.75" ry="3.05"/></g>
<g stroke="#ff3b3b" stroke-width="1.8" fill="none"><path d="M449.38 855.15H462.78"/><ellipse cx="456.08" cy="855.15" rx="2.75" ry="3.05"/></g>
<g stroke="#1f3cff" stroke-width="1.8" fill="none"><path d="M468.09 685.45H481.49"/><ellipse cx="474.79" cy="685.45" rx="2.75" ry="3.05"/></g>
<g stroke="#ff3b3b" stroke-width="1.8" fill="none"><path d="M480.59 687.05H493.99"/><ellipse cx="487.29" cy="687.05" rx="2.75" ry="3.05"/></g>
<g stroke="#1f3cff" stroke-width="1.8" fill="none"><path d="M499.31 702.25H512.71"/><ellipse cx="506.01" cy="702.25" rx="2.75" ry="3.05"/></g>
<g stroke="#ff3b3b" stroke-width="1.8" fill="none"><path d="M511.81 701.25H525.21"/><ellipse cx="518.51" cy="701.25" rx="2.75" ry="3.05"/></g>
<g stroke="#1f3cff" stroke-width="1.8" fill="none"><path d="M530.52 710.85H543.92"/><ellipse cx="537.22" cy="710.85" rx="2.75" ry="3.05"/></g>
<g stroke="#ff3b3b" stroke-width="1.8" fill="none"><path d="M543.02 743.95H556.42"/><ellipse cx="549.72" cy="743.95" rx="2.75" ry="3.05"/></g>
<g stroke="#ff3b3b" stroke-width="1.8" fill="none"><path d="M574.24 687.55H587.64"/><ellipse cx="580.94" cy="687.55" rx="2.75" ry="3.05"/></g>
<g stroke="#1f3cff" stroke-width="1.8" fill="none"><path d="M592.95 877.65H606.36"/><ellipse cx="599.65" cy="877.65" rx="2.75" ry="3.05"/></g>
<g stroke="#ff3b3b" stroke-width="1.8" fill="none"><path d="M605.45 876.95H618.86"/><ellipse cx="612.15" cy="876.95" rx="2.75" ry="3.05"/></g>
<text x="64.90" y="11.0" font-size="17.7" text-anchor="middle" fill="#1f3cff" stroke="#1f3cff" stroke-width="0.2">P</text><text x="75.40" y="11.0" font-size="17.7" text-anchor="middle" fill="#1f3cff" stroke="#1f3cff" stroke-width="0.2">a</text><text x="84.35" y="11.0" font-size="17.7" text-anchor="middle" fill="#1f3cff" stroke="#1f3cff" stroke-width="0.2">v</text>
<g stroke="#1f3cff" stroke-width="1.8" fill="none"><path d="M107.00 5.40H120.40"/><ellipse cx="113.70" cy="5.40" rx="2.75" ry="3.05"/></g>
<text x="161.40" y="11.0" font-size="17.7" text-anchor="middle" fill="#ff3b3b" stroke="#ff3b3b" stroke-width="0.2">P</text><text x="172.00" y="11.0" font-size="17.7" text-anchor="middle" fill="#ff3b3b" stroke="#ff3b3b" stroke-width="0.2">1</text><text x="182.10" y="11.0" font-size="17.7" text-anchor="middle" fill="#ff3b3b" stroke="#ff3b3b" stroke-width="0.2">d</text>
<g stroke="#ff3b3b" stroke-width="1.8" fill="none"><path d="M203.80 5.40H217.20"/><ellipse cx="210.50" cy="5.40" rx="2.75" ry="3.05"/></g>
</svg>
</body></html>
